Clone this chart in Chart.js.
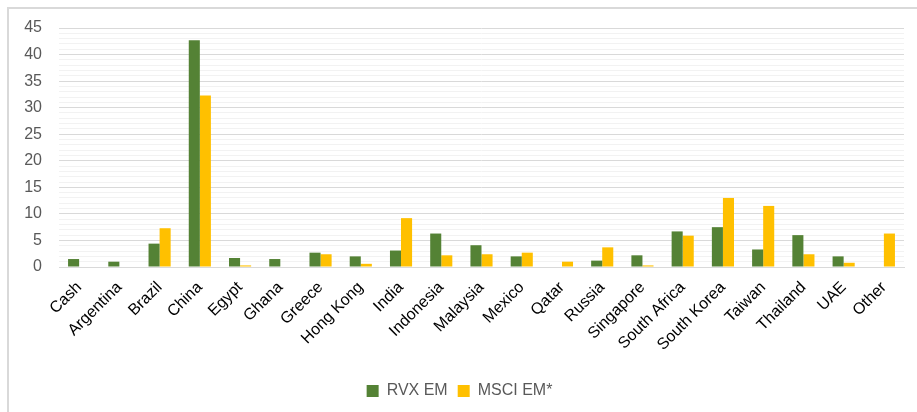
<!DOCTYPE html>
<html>
<head>
<meta charset="utf-8">
<script src="https://cdn.jsdelivr.net/npm/chart.js@4/dist/chart.umd.min.js"></script>
<style>
  html, body { margin: 0; padding: 0; background: #ffffff; }
  #wrap { position: relative; width: 917px; height: 412px; overflow: hidden; }
  #frame { position: absolute; left: 7px; top: 7px; width: 940px; height: 440px; border-left: 2px solid #d9d9d9; border-top: 2px solid #d9d9d9; box-sizing: border-box; }
  #c { position: absolute; left: 0; top: 0; }
</style>
</head>
<body>
<div id="wrap">
  <div id="frame"></div>
  <canvas id="c" width="917" height="412"></canvas>
</div>
<script>
const categories = ["Cash", "Argentina", "Brazil", "China", "Egypt", "Ghana", "Greece", "Hong Kong", "India", "Indonesia", "Malaysia", "Mexico", "Qatar", "Russia", "Singapore", "South Africa", "South Korea", "Taiwan", "Thailand", "UAE", "Other"];
const rvxEM  = [1.5, 1.0, 4.4, 42.7, 1.7, 1.5, 2.7, 2.0, 3.1, 6.3, 4.1, 2.0, 0, 1.2, 2.2, 6.7, 7.5, 3.3, 6.0, 2.0, 0];
const msciEM = [0, 0, 7.3, 32.3, 0.3, 0, 2.4, 0.6, 9.2, 2.2, 2.4, 2.7, 1.0, 3.7, 0.3, 5.9, 13.0, 11.5, 2.4, 0.8, 6.3];
const seriesNames = ["RVX EM", "MSCI EM*"];
const yMax = 45;
const yMajorStep = 5;

const FONT = "'Liberation Sans', Arial, sans-serif";

new Chart(document.getElementById('c'), {
  type: 'bar',
  data: {
    labels: categories,
    datasets: [
      { label: seriesNames[0], data: rvxEM, backgroundColor: '#548235', borderWidth: 0,
        categoryPercentage: 0.55, barPercentage: 1.0 },
      { label: seriesNames[1], data: msciEM, backgroundColor: '#FFC000', borderWidth: 0,
        categoryPercentage: 0.55, barPercentage: 1.0 }
    ]
  },
  options: {
    responsive: false,
    animation: false,
    layout: { padding: { left: 15, right: 13, top: 28, bottom: 3 } },
    plugins: {
      legend: {
        position: 'bottom',
        labels: {
          font: { family: FONT, size: 16 },
          color: '#595959',
          boxWidth: 12,
          boxHeight: 12,
          padding: 10
        }
      },
      tooltip: { enabled: false }
    },
    scales: {
      x: {
        grid: { display: false, drawTicks: false },
        border: { color: '#d9d9d9', width: 1 },
        ticks: {
          font: { family: FONT, size: 16 },
          color: '#000000',
          maxRotation: 45,
          minRotation: 45,
          autoSkip: false,
          padding: 11
        },
        afterFit: (s) => { s.height = 106; }
      },
      y: {
        min: 0,
        max: yMax,
        grid: {
          drawTicks: false,
          color: (ctx) => (ctx.tick && ctx.tick.value % yMajorStep === 0) ? '#d9d9d9' : '#f2f2f2',
          lineWidth: 1
        },
        border: { display: false },
        ticks: {
          stepSize: 1,
          autoSkip: false,
          font: { family: FONT, size: 16 },
          color: '#595959',
          padding: 17,
          callback: (v) => (v % yMajorStep === 0 ? v : '')
        },
        afterFit: (s) => { s.width = 44; }
      }
    }
  }
});
</script>
</body>
</html>
